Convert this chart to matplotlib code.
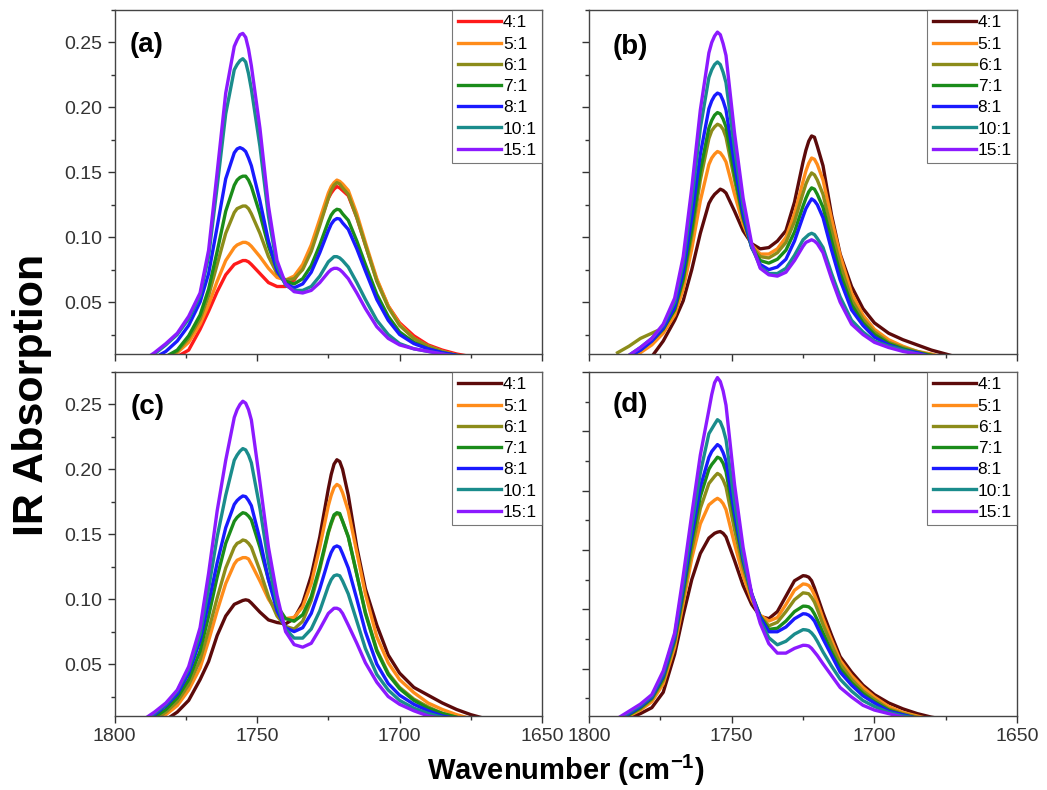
import matplotlib
matplotlib.use('Agg')
import matplotlib.pyplot as plt
from matplotlib.ticker import MultipleLocator, FormatStrFormatter

plt.rcParams['font.family'] = ['Liberation Sans', 'DejaVu Sans']
plt.rcParams['mathtext.fontset'] = 'custom'
plt.rcParams['mathtext.rm'] = 'Liberation Sans'
plt.rcParams['mathtext.bf'] = 'Liberation Sans:bold'

# wavenumber grid (cm-1) shared by all spectra
wavenumber = [1790, 1786, 1782, 1778, 1774, 1770, 1767, 1764, 1761,
              1758, 1757, 1756, 1755, 1754, 1753, 1752,
              1749, 1746, 1743, 1740, 1737, 1734, 1731, 1728,
              1725, 1724, 1723, 1722, 1721, 1720,
              1718, 1715, 1712, 1708, 1704, 1700,
              1695, 1690, 1685, 1680, 1675, 1670]
ratios = ['4:1', '5:1', '6:1', '7:1', '8:1', '10:1', '15:1']

# panel (a)
a_4 = [0.001, 0.003, 0.005, 0.008, 0.013, 0.029, 0.043, 0.058, 0.071,
       0.079, 0.080, 0.081, 0.082, 0.082, 0.081, 0.079,
       0.072, 0.065, 0.062, 0.062, 0.067, 0.077, 0.092, 0.111,
       0.130, 0.134, 0.137, 0.139, 0.138, 0.136,
       0.132, 0.115, 0.094, 0.067, 0.047, 0.034,
       0.024, 0.017, 0.013, 0.010, 0.008, 0.006]
a_5 = [0.002, 0.004, 0.007, 0.011, 0.019, 0.033, 0.048, 0.066, 0.082,
       0.092, 0.094, 0.095, 0.096, 0.096, 0.095, 0.093,
       0.085, 0.076, 0.069, 0.067, 0.070, 0.079, 0.094, 0.114,
       0.134, 0.139, 0.142, 0.144, 0.143, 0.141,
       0.136, 0.118, 0.096, 0.068, 0.047, 0.033,
       0.022, 0.016, 0.012, 0.009, 0.007, 0.005]
a_6 = [0.002, 0.005, 0.008, 0.012, 0.022, 0.037, 0.055, 0.079, 0.103,
       0.119, 0.122, 0.123, 0.124, 0.124, 0.122, 0.118,
       0.103, 0.085, 0.072, 0.067, 0.068, 0.075, 0.089, 0.109,
       0.130, 0.136, 0.140, 0.142, 0.141, 0.138,
       0.133, 0.115, 0.094, 0.066, 0.046, 0.032,
       0.022, 0.016, 0.012, 0.009, 0.007, 0.005]
a_7 = [0.002, 0.005, 0.008, 0.013, 0.024, 0.040, 0.060, 0.089, 0.120,
       0.140, 0.144, 0.146, 0.147, 0.147, 0.144, 0.139,
       0.118, 0.093, 0.075, 0.066, 0.064, 0.068, 0.078, 0.094,
       0.112, 0.117, 0.120, 0.1215, 0.121, 0.118,
       0.113, 0.097, 0.079, 0.056, 0.039, 0.027,
       0.019, 0.014, 0.011, 0.009, 0.007, 0.005]
a_8 = [0.003, 0.007, 0.012, 0.020, 0.032, 0.050, 0.072, 0.108, 0.145,
       0.165, 0.168, 0.169, 0.168, 0.166, 0.161, 0.155,
       0.128, 0.097, 0.074, 0.064, 0.061, 0.064, 0.073, 0.088,
       0.105, 0.110, 0.113, 0.1144, 0.114, 0.111,
       0.106, 0.091, 0.074, 0.052, 0.036, 0.025,
       0.018, 0.014, 0.011, 0.009, 0.007, 0.005]
a_10 = [0.004, 0.010, 0.017, 0.025, 0.037, 0.055, 0.085, 0.139, 0.195,
        0.229, 0.233, 0.236, 0.2375, 0.235, 0.226, 0.214,
        0.170, 0.116, 0.078, 0.063, 0.059, 0.059, 0.062, 0.070,
        0.081, 0.083, 0.085, 0.085, 0.084, 0.082,
        0.077, 0.065, 0.052, 0.036, 0.025, 0.018,
        0.014, 0.012, 0.010, 0.008, 0.006, 0.005]
a_15 = [0.005, 0.011, 0.018, 0.026, 0.039, 0.057, 0.090, 0.150, 0.211,
        0.247, 0.252, 0.256, 0.257, 0.254, 0.245, 0.232,
        0.184, 0.124, 0.082, 0.064, 0.058, 0.057, 0.059, 0.065,
        0.073, 0.075, 0.076, 0.076, 0.075, 0.073,
        0.068, 0.057, 0.045, 0.031, 0.022, 0.017,
        0.014, 0.012, 0.010, 0.008, 0.006, 0.005]

# panel (b)
b_4 = [0.001, 0.003, 0.005, 0.008, 0.020, 0.036, 0.051, 0.075, 0.103,
       0.126, 0.130, 0.133, 0.135, 0.137, 0.136, 0.134,
       0.120, 0.105, 0.095, 0.091, 0.092, 0.097, 0.105, 0.127,
       0.158, 0.167, 0.174, 0.178, 0.177, 0.170,
       0.155, 0.117, 0.087, 0.062, 0.045, 0.034,
       0.026, 0.021, 0.017, 0.013, 0.010, 0.007]
b_5 = [0.003, 0.007, 0.011, 0.017, 0.026, 0.040, 0.060, 0.091, 0.128,
       0.156, 0.161, 0.164, 0.166, 0.165, 0.162, 0.158,
       0.133, 0.110, 0.094, 0.087, 0.087, 0.091, 0.100, 0.118,
       0.143, 0.151, 0.157, 0.161, 0.160, 0.156,
       0.144, 0.114, 0.086, 0.057, 0.040, 0.029,
       0.021, 0.016, 0.012, 0.010, 0.007, 0.005]
b_6 = [0.011, 0.016, 0.022, 0.026, 0.030, 0.044, 0.066, 0.101, 0.144,
       0.176, 0.182, 0.185, 0.187, 0.186, 0.183, 0.177,
       0.144, 0.114, 0.093, 0.085, 0.084, 0.088, 0.096, 0.112,
       0.134, 0.141, 0.146, 0.1495, 0.148, 0.144,
       0.133, 0.105, 0.079, 0.052, 0.037, 0.027,
       0.019, 0.015, 0.012, 0.009, 0.007, 0.005]
b_7 = [0.004, 0.008, 0.013, 0.020, 0.029, 0.044, 0.068, 0.106, 0.151,
       0.184, 0.190, 0.194, 0.196, 0.195, 0.191, 0.185,
       0.148, 0.115, 0.092, 0.082, 0.080, 0.083, 0.090, 0.104,
       0.124, 0.130, 0.135, 0.138, 0.137, 0.133,
       0.123, 0.097, 0.072, 0.048, 0.034, 0.025,
       0.018, 0.014, 0.011, 0.009, 0.007, 0.005]
b_8 = [0.004, 0.008, 0.013, 0.020, 0.030, 0.046, 0.073, 0.115, 0.164,
       0.199, 0.205, 0.209, 0.211, 0.210, 0.205, 0.198,
       0.156, 0.118, 0.092, 0.079, 0.075, 0.077, 0.083, 0.097,
       0.116, 0.122, 0.126, 0.1295, 0.128, 0.125,
       0.115, 0.090, 0.067, 0.044, 0.032, 0.023,
       0.017, 0.013, 0.011, 0.008, 0.006, 0.005]
b_10 = [0.004, 0.009, 0.015, 0.022, 0.032, 0.050, 0.080, 0.128, 0.184,
        0.223, 0.229, 0.233, 0.235, 0.233, 0.227, 0.219,
        0.168, 0.124, 0.093, 0.077, 0.072, 0.072, 0.076, 0.086,
        0.098, 0.100, 0.102, 0.103, 0.102, 0.099,
        0.092, 0.072, 0.054, 0.036, 0.027, 0.020,
        0.016, 0.013, 0.010, 0.008, 0.006, 0.005]
b_15 = [0.004, 0.009, 0.015, 0.022, 0.033, 0.053, 0.085, 0.138, 0.198,
        0.242, 0.250, 0.255, 0.258, 0.256, 0.249, 0.240,
        0.180, 0.130, 0.095, 0.076, 0.071, 0.070, 0.073, 0.082,
        0.093, 0.096, 0.097, 0.098, 0.097, 0.095,
        0.088, 0.068, 0.050, 0.033, 0.025, 0.019,
        0.015, 0.012, 0.010, 0.008, 0.006, 0.005]

# panel (c)
c_4 = [0.002, 0.004, 0.007, 0.013, 0.022, 0.038, 0.052, 0.072, 0.087,
       0.096, 0.097, 0.098, 0.099, 0.0995, 0.099, 0.097,
       0.090, 0.084, 0.082, 0.081, 0.085, 0.097, 0.118, 0.148,
       0.185, 0.196, 0.204, 0.2074, 0.206, 0.200,
       0.180, 0.140, 0.108, 0.080, 0.057, 0.043,
       0.032, 0.026, 0.020, 0.015, 0.011, 0.008]
c_5 = [0.003, 0.006, 0.011, 0.018, 0.030, 0.047, 0.068, 0.091, 0.112,
       0.127, 0.130, 0.131, 0.132, 0.132, 0.131, 0.127,
       0.114, 0.100, 0.090, 0.085, 0.086, 0.094, 0.112, 0.140,
       0.172, 0.180, 0.186, 0.1884, 0.187, 0.182,
       0.168, 0.136, 0.104, 0.071, 0.051, 0.038,
       0.028, 0.020, 0.015, 0.011, 0.008, 0.005]
c_6 = [0.003, 0.007, 0.013, 0.021, 0.034, 0.053, 0.076, 0.101, 0.124,
       0.140, 0.143, 0.144, 0.1456, 0.145, 0.143, 0.140,
       0.122, 0.102, 0.087, 0.079, 0.077, 0.083, 0.099, 0.123,
       0.151, 0.158, 0.164, 0.166, 0.165, 0.160,
       0.148, 0.119, 0.090, 0.061, 0.043, 0.032,
       0.023, 0.017, 0.012, 0.009, 0.006, 0.004]
c_7 = [0.004, 0.009, 0.015, 0.024, 0.038, 0.060, 0.087, 0.117, 0.143,
       0.160, 0.163, 0.165, 0.1666, 0.166, 0.164, 0.161,
       0.140, 0.115, 0.095, 0.085, 0.083, 0.088, 0.102, 0.125,
       0.152, 0.159, 0.165, 0.1666, 0.166, 0.160,
       0.148, 0.119, 0.089, 0.060, 0.042, 0.031,
       0.022, 0.016, 0.012, 0.009, 0.006, 0.004]
c_8 = [0.005, 0.011, 0.018, 0.027, 0.043, 0.068, 0.097, 0.128, 0.155,
       0.173, 0.176, 0.178, 0.1795, 0.179, 0.176, 0.172,
       0.146, 0.115, 0.091, 0.078, 0.075, 0.078, 0.089, 0.108,
       0.130, 0.136, 0.140, 0.141, 0.140, 0.135,
       0.124, 0.100, 0.075, 0.050, 0.035, 0.026,
       0.019, 0.014, 0.010, 0.008, 0.006, 0.004]
c_10 = [0.006, 0.012, 0.019, 0.029, 0.046, 0.073, 0.108, 0.148, 0.180,
        0.207, 0.211, 0.214, 0.216, 0.215, 0.211, 0.205,
        0.170, 0.128, 0.096, 0.077, 0.070, 0.070, 0.077, 0.091,
        0.110, 0.115, 0.118, 0.1187, 0.118, 0.114,
        0.104, 0.083, 0.062, 0.042, 0.030, 0.022,
        0.016, 0.012, 0.009, 0.007, 0.005, 0.004]
c_15 = [0.007, 0.013, 0.020, 0.030, 0.048, 0.078, 0.120, 0.168, 0.207,
        0.240, 0.246, 0.250, 0.2525, 0.251, 0.246, 0.238,
        0.190, 0.140, 0.103, 0.075, 0.065, 0.063, 0.066, 0.077,
        0.089, 0.091, 0.093, 0.093, 0.092, 0.089,
        0.080, 0.066, 0.051, 0.036, 0.025, 0.019,
        0.014, 0.010, 0.008, 0.006, 0.005, 0.004]

# panel (d)
d_4 = [0.004, 0.008, 0.012, 0.017, 0.030, 0.062, 0.095, 0.125, 0.147,
       0.160, 0.162, 0.164, 0.165, 0.1655, 0.164, 0.161,
       0.141, 0.120, 0.104, 0.094, 0.092, 0.098, 0.111, 0.124,
       0.1283, 0.128, 0.127, 0.124, 0.118, 0.111,
       0.097, 0.078, 0.060, 0.047, 0.036, 0.028,
       0.021, 0.016, 0.012, 0.009, 0.007, 0.005]
d_5 = [0.005, 0.010, 0.015, 0.022, 0.037, 0.068, 0.105, 0.143, 0.172,
       0.188, 0.190, 0.192, 0.1935, 0.192, 0.189, 0.184,
       0.155, 0.128, 0.108, 0.095, 0.090, 0.093, 0.104, 0.116,
       0.1213, 0.121, 0.120, 0.117, 0.112, 0.106,
       0.092, 0.074, 0.057, 0.044, 0.034, 0.026,
       0.018, 0.013, 0.010, 0.007, 0.005, 0.003]
d_6 = [0.006, 0.011, 0.016, 0.024, 0.040, 0.072, 0.110, 0.150, 0.185,
       0.206, 0.209, 0.212, 0.2145, 0.213, 0.209, 0.203,
       0.167, 0.135, 0.111, 0.094, 0.086, 0.089, 0.098, 0.108,
       0.1138, 0.1135, 0.113, 0.110, 0.106, 0.100,
       0.087, 0.070, 0.054, 0.041, 0.031, 0.024,
       0.016, 0.012, 0.009, 0.007, 0.005, 0.003]
d_7 = [0.006, 0.011, 0.017, 0.025, 0.042, 0.074, 0.114, 0.157, 0.195,
       0.218, 0.222, 0.225, 0.2282, 0.227, 0.223, 0.216,
       0.176, 0.140, 0.113, 0.094, 0.083, 0.084, 0.090, 0.098,
       0.1026, 0.1025, 0.102, 0.100, 0.096, 0.091,
       0.080, 0.064, 0.050, 0.038, 0.029, 0.022,
       0.015, 0.011, 0.008, 0.006, 0.004, 0.003]
d_8 = [0.007, 0.012, 0.018, 0.026, 0.044, 0.076, 0.118, 0.162, 0.203,
       0.228, 0.233, 0.236, 0.2388, 0.237, 0.232, 0.225,
       0.181, 0.142, 0.113, 0.093, 0.081, 0.081, 0.085, 0.092,
       0.0962, 0.096, 0.095, 0.093, 0.090, 0.085,
       0.075, 0.061, 0.047, 0.036, 0.027, 0.021,
       0.014, 0.011, 0.008, 0.006, 0.004, 0.003]
d_10 = [0.007, 0.013, 0.019, 0.027, 0.046, 0.078, 0.122, 0.170, 0.215,
        0.248, 0.252, 0.256, 0.2598, 0.258, 0.252, 0.243,
        0.190, 0.145, 0.112, 0.090, 0.076, 0.070, 0.073, 0.079,
        0.0828, 0.0826, 0.082, 0.080, 0.077, 0.073,
        0.064, 0.052, 0.041, 0.031, 0.023, 0.018,
        0.013, 0.010, 0.008, 0.006, 0.004, 0.003]
d_15 = [0.008, 0.014, 0.020, 0.028, 0.048, 0.080, 0.128, 0.180, 0.230,
        0.268, 0.281, 0.291, 0.2953, 0.292, 0.284, 0.272,
        0.205, 0.152, 0.113, 0.088, 0.071, 0.063, 0.063, 0.067,
        0.0696, 0.0695, 0.069, 0.067, 0.064, 0.061,
        0.054, 0.044, 0.034, 0.026, 0.019, 0.015,
        0.012, 0.009, 0.007, 0.005, 0.004, 0.003]

colors_a = ['#ff1a1a', '#ff8c1a', '#8c8c1a', '#1a8c1a', '#1a1aff', '#1a8c8c', '#8c1aff']
colors_bcd = ['#5c0a0a', '#ff8c1a', '#8c8c1a', '#1a8c1a', '#1a1aff', '#1a8c8c', '#8c1aff']

panels = [
    ('(a)', [a_4, a_5, a_6, a_7, a_8, a_10, a_15], colors_a, (0.01, 0.275),
     [0.1094, 0.5519, 0.4084, 0.4354], (0.035, 0.898), True, False),
    ('(b)', [b_4, b_5, b_6, b_7, b_8, b_10, b_15], colors_bcd, (0.01, 0.275),
     [0.5626, 0.5519, 0.4088, 0.4354], (0.054, 0.892), False, False),
    ('(c)', [c_4, c_5, c_6, c_7, c_8, c_10, c_15], colors_bcd, (0.01, 0.275),
     [0.1094, 0.0937, 0.4084, 0.4354], (0.037, 0.898), True, True),
    ('(d)', [d_4, d_5, d_6, d_7, d_8, d_10, d_15], colors_bcd, (0.01, 0.30),
     [0.5626, 0.0937, 0.4088, 0.4354], (0.054, 0.904), False, True),
]

fig = plt.figure(figsize=(10.47, 7.90), dpi=100)

for tag, series, cols, ylim, pos, txt_pos, show_y, show_x in panels:
    ax = fig.add_axes(pos)
    for vals, col, lab in zip(series, cols, ratios):
        ax.plot(wavenumber, vals, color=col, lw=2.4, label=lab,
                solid_joinstyle='round')
    ax.set_xlim(1800, 1650)
    ax.set_ylim(*ylim)
    ax.xaxis.set_major_locator(MultipleLocator(50))
    ax.xaxis.set_minor_locator(MultipleLocator(25))
    ax.yaxis.set_major_locator(MultipleLocator(0.05))
    ax.yaxis.set_minor_locator(MultipleLocator(0.025))
    ax.yaxis.set_major_formatter(FormatStrFormatter('%.2f'))
    ax.tick_params(which='both', direction='out', top=False, right=False,
                   labelsize=14, colors='#333333', width=1,
                   labelleft=show_y, labelbottom=show_x)
    ax.tick_params(which='major', length=5)
    ax.tick_params(which='minor', length=3)
    for sp in ax.spines.values():
        sp.set_color('#444444')
        sp.set_linewidth(1)
    ax.text(txt_pos[0], txt_pos[1], tag, transform=ax.transAxes,
            fontsize=20, fontweight='bold', va='center', ha='left')
    leg = ax.legend(loc='upper right', borderaxespad=0, fontsize=12.5,
                    handlelength=2.5, handletextpad=0.1, labelspacing=0.35,
                    borderpad=0.3, fancybox=False, edgecolor='#555555')
    leg.get_frame().set_linewidth(0.8)

fig.text(0.031, 0.5, 'IR Absorption', rotation=90, fontsize=31,
         fontweight='bold', ha='center', va='center')
fig.text(0.54, 0.025, r'Wavenumber (cm$^{\mathbf{-1}}$)', fontsize=21,
         fontweight='bold', ha='center', va='center')

fig.savefig('out.png', dpi=100)
